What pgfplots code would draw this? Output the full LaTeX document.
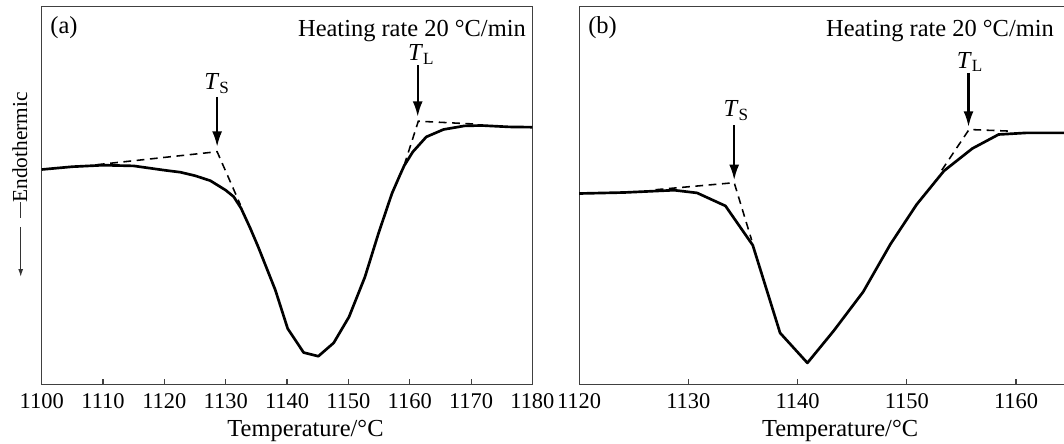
\documentclass[border=0pt]{standalone}
\usepackage{pgfplots}
\pgfplotsset{compat=1.18}
\usepackage{fontspec}
\setmainfont{Liberation Serif}
\usetikzlibrary{arrows.meta}

% DSC curves, y in pixel-like units from the bottom of the frame
\pgfplotstableread{
T      q
1100   214.7
1105   217.5
1110   219.0
1115   218.3
1120   214.0
1122.6 212.0
1125   208.5
1127.5 203.5
1130   194.0
1131.3 187.5
1132.5 176.0
1134   156.0
1135.3 137.3
1138.1 94.0
1140.1 55.7
1142.7 31.7
1145.1 28.0
1147.6 41.3
1150.1 67.3
1152.7 107.3
1154.9 150.7
1157.1 190.7
1158.4 209.0
1159.1 218.5
1160.5 232.3
1162.7 247.3
1165.5 254.7
1168.9 258.3
1171.7 258.7
1176.2 257.3
1180   257.0
}\curveA

\pgfplotstableread{
T      q
1120   190.7
1124.1 191.7
1128.7 194.0
1130.8 191.3
1133.4 178.3
1135.9 139.0
1138.4 51.3
1140.9 21.3
1143.3 53.3
1146.0 92.3
1148.5 140.0
1150.9 179.7
1153.4 213.3
1156.0 235.7
1158.4 249.7
1160.9 251.3
1164.4 251.3
}\curveB

\tikzset{note/.style={font=\fontsize{11}{13}\selectfont, inner sep=0pt}}

\begin{document}
\begin{tikzpicture}
\pgfplotsset{
  dsc/.style={
    scale only axis, height=169.8pt, ymin=0, ymax=377.3,
    ytick=\empty, xtick pos=bottom, tick align=inside,
    major tick length=2.3pt,
    axis line style={-, black!75, line width=0.5pt},
    every tick/.style={black!75, line width=0.5pt},
    /pgf/number format/assume math mode=true,
    /pgf/number format/1000 sep={},
    xticklabel style={font=\fontsize{10.1}{12}\selectfont, yshift=-0.8pt},
    xlabel={\fontsize{11}{13}\selectfont Temperature/°C},
    xlabel style={at={(axis description cs:0.5,0)}, anchor=base,
      yshift=-23.3pt, xshift=8.3pt},
    clip=false,
  },
  curve/.style={black, line width=1.2pt, line join=round},
  tang/.style={black, line width=0.7pt, dash pattern=on 3.5pt off 2.5pt},
  marker/.style={black, line width=1pt, -{Latex[length=7pt,width=4.5pt]}},
}

% panel (a)
\begin{axis}[dsc, at={(0pt,0pt)}, anchor=south west, width=220.8pt,
  xmin=1100, xmax=1180, xtick={1100,1110,...,1180}]
\addplot[curve] table[x=T, y=q] {\curveA};
\addplot[tang] coordinates {(1109,219.5) (1128.6,232.5) (1132.4,179.3)};
\addplot[tang] coordinates {(1159.1,219) (1161.4,263) (1171.1,260)};
\addplot[marker] coordinates {(1128.6,287.3) (1128.6,237.3)};
\addplot[marker] coordinates {(1161.3,319) (1161.3,267.3)};
\node[note, anchor=west] at (axis cs:1101.35,356.6) {(a)};
\node[note, anchor=east] at (axis cs:1179,353) {Heating rate 20 °C/min};
\node[note] at (axis cs:1128.6,300.7) {\textit{T}\textsubscript{S}};
\node[note] at (axis cs:1161.9,330) {\textit{T}\textsubscript{L}};
\end{axis}

% panel (b), cut off at the right edge
\begin{axis}[dsc, at={(241.8pt,0pt)}, anchor=south west, width=218.25pt,
  xmin=1120, xmax=1164.4, xtick={1120,1130,...,1160},
  axis x line*=box, axis y line*=left]
\addplot[curve] table[x=T, y=q] {\curveB};
\addplot[tang] coordinates {(1127,194.5) (1134.2,201.5) (1135.8,144)};
\addplot[tang] coordinates {(1153.2,214) (1155.7,254.7) (1159.6,253)};
\addplot[marker] coordinates {(1134.2,259) (1134.2,204)};
\addplot[marker] coordinates {(1155.65,311.3) (1155.65,257.3)};
\node[note, anchor=west] at (axis cs:1120.8,356.6) {(b)};
\node[note, anchor=east] at (axis cs:1163.5,353) {Heating rate 20 °C/min};
\node[note] at (axis cs:1134.4,273.3) {\textit{T}\textsubscript{S}};
\node[note] at (axis cs:1155.8,322.3) {\textit{T}\textsubscript{L}};
\end{axis}

% y label with its arrow, left of panel (a)
\node[rotate=90, font=\fontsize{9.6}{11}\selectfont] at (-9.8pt,106.6pt) {Endothermic};
\draw[black!80, line width=0.5pt] (-9.45pt,82pt) -- (-9.45pt,74.8pt);
\draw[black!80, line width=0.5pt, -{Latex[length=3.5pt,width=2.2pt]}] (-9.45pt,70.8pt) -- (-9.45pt,48.3pt);

\pgfresetboundingbox
\path (-18.77pt,-26.87pt) rectangle (460pt,172.9pt);
\end{tikzpicture}
\end{document}
